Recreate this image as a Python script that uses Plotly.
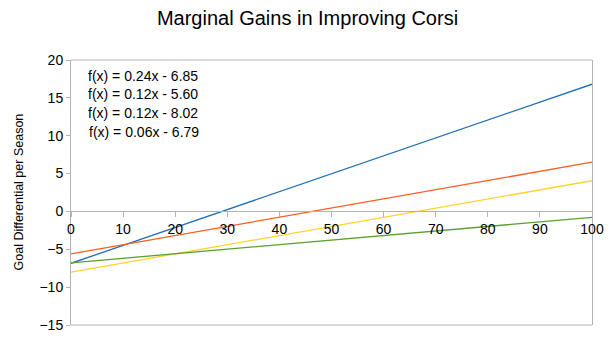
import plotly.graph_objects as go

# Data
x_vals = [0, 100]
blue_y = [-6.85, 16.8]
orange_y = [-5.60, 6.5]
yellow_y = [-8.02, 4.05]
green_y = [-6.79, -0.78]
series_names = ["Series 1", "Series 2", "Series 3", "Series 4"]
equations = ["f(x) = 0.24x - 6.85", "f(x) = 0.12x - 5.60",
             "f(x) = 0.12x - 8.02", "f(x) = 0.06x - 6.79"]
x_ticks = list(range(0, 101, 10))
y_ticks = list(range(-15, 21, 5))

colors = ["#1f6fb4", "#ff5c1f", "#ffd42a", "#5aa02c"]
FONT = "Liberation Sans, Arial, sans-serif"
GRAY = "#b3b3b3"

fig = go.Figure()
for name, ys, c in zip(series_names, [blue_y, orange_y, yellow_y, green_y], colors):
    fig.add_trace(go.Scatter(x=x_vals, y=ys, mode="lines", name=name,
                             line=dict(color=c, width=1.3), showlegend=False))

y_min, y_max = -15, 20
zero_pos = (0 - y_min) / (y_max - y_min)

fig.update_layout(
    width=615, height=351,
    margin=dict(l=71, r=23, t=60, b=26),
    paper_bgcolor="white", plot_bgcolor="white",
    font=dict(family=FONT, size=14, color="black"),
    title=dict(text="Marginal Gains in Improving Corsi", x=0.5, xanchor="center",
               xref="container", y=1 - 18 / 351, yanchor="middle",
               font=dict(size=20, color="black", family=FONT)),
    xaxis=dict(range=[0, 100], tickvals=x_ticks, showgrid=False, zeroline=False,
               showline=True, linecolor=GRAY, linewidth=1,
               ticks="outside", ticklen=5, tickcolor=GRAY,
               anchor="free", position=zero_pos,
               tickfont=dict(size=14, color="black", family=FONT)),
    yaxis=dict(range=[y_min, y_max], tickvals=y_ticks, showgrid=False, zeroline=False,
               showline=True, linecolor=GRAY, linewidth=1, mirror=True,
               ticks="outside", ticklen=4, tickcolor=GRAY,
               tickfont=dict(size=14, color="black", family=FONT)),
)

# frame top and bottom
fig.add_shape(type="line", xref="paper", yref="paper", x0=0, x1=1, y0=1, y1=1,
              line=dict(color=GRAY, width=1))
fig.add_shape(type="line", xref="paper", yref="paper", x0=0, x1=1, y0=0, y1=0,
              line=dict(color=GRAY, width=1))

# equations
eq_y = [0.9396, 0.8717, 0.80, 0.728]
eq_x = [0.029, 0.029, 0.029, 0.031]
for t, yy, xx in zip(equations, eq_y, eq_x):
    fig.add_annotation(text=t, x=xx, y=yy, xref="paper", yref="paper",
                       xanchor="left", yanchor="middle", showarrow=False,
                       font=dict(size=14, color="black", family=FONT))

# y-axis title
fig.add_annotation(text="Goal Differential per Season", x=(18 - 71) / 521, y=0.5,
                   xref="paper", yref="paper", xanchor="center", yanchor="middle",
                   textangle=-90, showarrow=False,
                   font=dict(size=12.5, color="black", family=FONT))

fig.write_html("out.html")
